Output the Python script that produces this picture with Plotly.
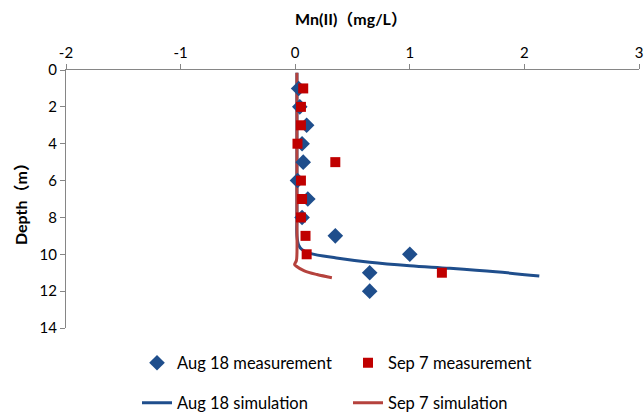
import plotly.graph_objects as go

# Measurements
aug_depth = [1, 2, 3, 4, 5, 6, 7, 8, 9, 10, 11, 12]
aug_mn = [0.03, 0.04, 0.10, 0.06, 0.07, 0.02, 0.11, 0.06, 0.35, 1.00, 0.65, 0.65]
sep_depth = [1, 2, 3, 4, 5, 6, 7, 8, 9, 10, 11]
sep_mn = [0.07, 0.05, 0.05, 0.02, 0.35, 0.05, 0.06, 0.05, 0.09, 0.10, 1.28]

# Simulations
aug_sim_depth = [0.15, 2, 4, 6, 8, 9.0, 9.5, 9.75, 9.95, 10.2, 10.43, 10.62, 10.76, 10.95, 11.18]
aug_sim_mn = [0.015, 0.015, 0.015, 0.015, 0.015, 0.015, 0.03, 0.06, 0.13, 0.36, 0.65, 1.0, 1.35, 1.75, 2.13]
sep_sim_depth = [0.15, 2, 4, 6, 8, 10.0, 10.35, 10.55, 10.65, 10.9, 11.1, 11.27]
sep_sim_mn = [0.015, 0.015, 0.015, 0.015, 0.015, 0.015, 0.01, -0.005, 0.01, 0.08, 0.19, 0.32]

x_ticks = [-2, -1, 0, 1, 2, 3]
x_tick_text = ["-2", "-1", "0", "1", "2", "3"]
y_ticks = [0, 2, 4, 6, 8, 10, 12, 14]

BLUE = "#1F4E8C"
RED = "#C00000"
RED_LINE = "#B5423D"
FONT = "Lato, 'Noto Sans CJK SC', sans-serif"

fig = go.Figure()
fig.add_trace(go.Scatter(x=aug_sim_mn, y=aug_sim_depth, mode="lines", name="Aug 18 simulation",
                         line=dict(color=BLUE, width=3, shape="spline"), legend="legend2"))
fig.add_trace(go.Scatter(x=sep_sim_mn, y=sep_sim_depth, mode="lines", name="Sep 7 simulation",
                         line=dict(color=RED_LINE, width=3, shape="spline"), legend="legend2"))
fig.add_trace(go.Scatter(x=aug_mn, y=aug_depth, mode="markers", name="Aug 18 measurement",
                         marker=dict(symbol="diamond", size=12, color=BLUE), legend="legend"))
fig.add_trace(go.Scatter(x=sep_mn, y=sep_depth, mode="markers", name="Sep 7 measurement",
                         marker=dict(symbol="square", size=10, color=RED), legend="legend"))

L, R, T, B = 66, 5, 70, 84
W, H = 644, 412
pw = W - L - R
ph = H - T - B

def px_x(px):
    return (px - L) / pw

def px_y(py):
    return (H - B - py) / ph

fig.update_layout(
    width=W, height=H,
    margin=dict(l=L, r=R, t=T, b=B, autoexpand=False),
    paper_bgcolor="white", plot_bgcolor="white",
    font=dict(family=FONT, size=14, color="#000000"),
    xaxis=dict(range=[-2, 3], side="top", tickvals=x_ticks, ticktext=x_tick_text,
               ticks="outside", ticklen=5,
               tickcolor="#868686", showline=True, linecolor="#868686", linewidth=1,
               showgrid=False, zeroline=False, tickfont=dict(size=15)),
    yaxis=dict(range=[14, 0], tickvals=y_ticks, ticks="outside", ticklen=5,
               tickcolor="#868686", showline=True, linecolor="#868686", linewidth=1,
               showgrid=False, zeroline=False, tickfont=dict(size=15)),
    legend=dict(orientation="h", x=px_x(137), y=px_y(363), xanchor="left", yanchor="middle",
                entrywidth=166, font=dict(size=16.5), bgcolor="rgba(0,0,0,0)", traceorder="normal"),
    legend2=dict(orientation="h", x=px_x(137), y=px_y(403), xanchor="left", yanchor="middle",
                 entrywidth=166, font=dict(size=16.5), bgcolor="rgba(0,0,0,0)", traceorder="normal"),
    annotations=[
        dict(text="<b>Mn(II)（mg/L）</b>", x=px_x(351), y=px_y(18), xref="paper", yref="paper",
             showarrow=False, font=dict(size=16), xanchor="center", yanchor="middle"),
        dict(text="<b>Depth（m）</b>", x=px_x(20), y=px_y(200), xref="paper", yref="paper",
             showarrow=False, font=dict(size=16), textangle=-90, xanchor="center", yanchor="middle"),
    ],
)

fig.write_html("out.html")
